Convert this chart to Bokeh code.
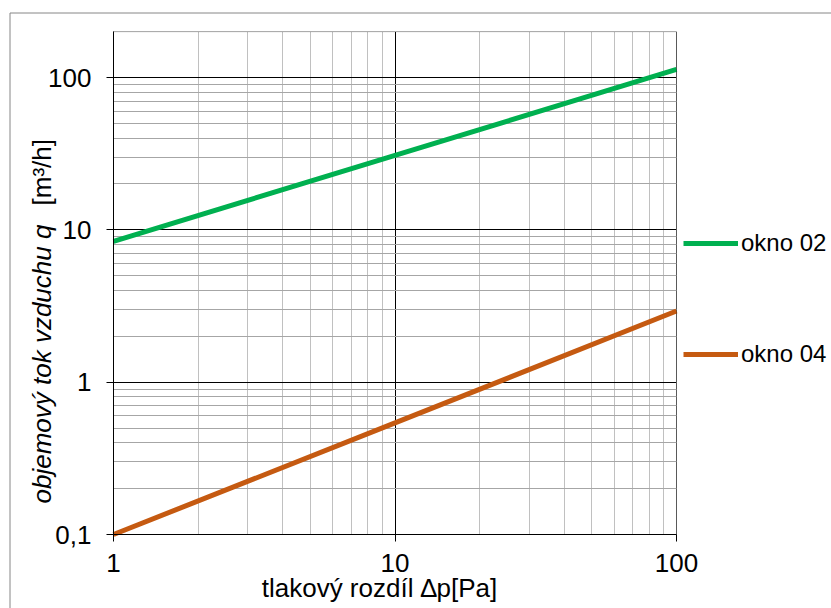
import math
from bokeh.plotting import figure
from bokeh.models import (Range1d, FixedTicker, CustomJSTickFormatter, Label,
                          Legend, LegendItem, BoxAnnotation)
from bokeh.embed import file_html
from bokeh.resources import INLINE

# ---- data ----
pressure = [1, 10, 100]                 # tlakový rozdíl [Pa]
okno_02 = [8.4, 30.8, 113]              # m3/h
okno_04 = [0.1, 0.54, 2.93]             # m3/h
series_names = ["okno 02", "okno 04"]

x_lim = (1, 100)
y_lim = (0.1, 200)
x_major = [1, 10, 100]
x_minor = [2, 3, 4, 5, 6, 7, 8, 9, 20, 30, 40, 50, 60, 70, 80, 90]
y_major = [0.1, 1, 10, 100]
y_minor = [0.2, 0.3, 0.4, 0.5, 0.6, 0.7, 0.8, 0.9,
           2, 3, 4, 5, 6, 7, 8, 9,
           20, 30, 40, 50, 60, 70, 80, 90, 200]

x_title = "tlakový rozdíl ∆p[Pa]"
y_title = "objemový tok vzduchu q"
y_unit = "[m³/h]"

FONT = "Liberation Sans"
GREEN = "#00B050"
ORANGE = "#C55A11"

# ---- layout (canvas pixels) ----
W, H = 831, 608
PX_LEFT, PX_RIGHT = 113, 676        # x = 1 and x = 100
PY_TOP_DEC, PY_BOTTOM = 77, 534     # y = 100 and y = 0.1
BORDER_X, BORDER_Y = 9.5, 12.5      # outer chart border (left, top)

dec_x = (PX_RIGHT - PX_LEFT) / 2.0
dec_y = (PY_BOTTOM - PY_TOP_DEC) / 3.0
x_start = 10 ** (math.log10(x_lim[0]) - PX_LEFT / dec_x)
x_end = 10 ** (math.log10(x_lim[1]) + (W - PX_RIGHT) / dec_x)
y_end = 10 ** (2 + PY_TOP_DEC / dec_y)
y_start = 10 ** (math.log10(y_lim[0]) - (H - PY_BOTTOM) / dec_y)
x_border = 10 ** (math.log10(x_start) + BORDER_X / dec_x)
y_border = 10 ** (math.log10(y_end) - BORDER_Y / dec_y)

p = figure(width=W, height=H, x_axis_type="log", y_axis_type="log",
           x_range=Range1d(x_start, x_end), y_range=Range1d(y_start, y_end),
           output_backend="svg", toolbar_location=None)
p.min_border = 0
p.min_border_left = 0
p.min_border_right = 0
p.min_border_top = 0
p.min_border_bottom = 0
p.background_fill_color = "white"
p.border_fill_color = "white"
p.outline_line_color = None

p.xaxis.ticker = FixedTicker(ticks=x_major, minor_ticks=x_minor)
p.yaxis.ticker = FixedTicker(ticks=y_major, minor_ticks=y_minor)
p.xaxis.fixed_location = y_lim[0]
p.yaxis.fixed_location = x_lim[0]
p.xaxis.bounds = x_lim
p.yaxis.bounds = y_lim
fmt = CustomJSTickFormatter(code="return String(tick).replace('.', ',');")
for ax in (p.xaxis[0], p.yaxis[0]):
    ax.formatter = fmt
    ax.axis_line_color = "black"
    ax.major_tick_line_color = "black"
    ax.major_tick_in = 0
    ax.major_tick_out = 7
    ax.minor_tick_line_color = None
    ax.major_label_text_font = FONT
    ax.major_label_text_font_size = "26px"
    ax.major_label_text_color = "black"
p.xaxis.major_label_standoff = 12
p.yaxis.major_label_standoff = 15

p.xgrid.grid_line_color = "black"
p.ygrid.grid_line_color = "black"
p.xgrid.minor_grid_line_color = "#c0c0c0"
p.ygrid.minor_grid_line_color = "#a6a6a6"
for g, cb in ((p.xgrid[0], y_lim), (p.ygrid[0], x_lim)):
    if "cross_bounds" in g.properties():
        g.cross_bounds = cb

# white masks so that the grid only shows inside the plot area
mask_kw = dict(fill_color="white", fill_alpha=1, line_color=None, level="underlay")
xa, xb = x_start / 10, x_end * 10
ya, yb = y_start / 10, y_end * 10
p.add_layout(BoxAnnotation(left=xa, right=x_lim[0], bottom=ya, top=yb, **mask_kw))
p.add_layout(BoxAnnotation(left=x_lim[1], right=xb, bottom=ya, top=yb, **mask_kw))
p.add_layout(BoxAnnotation(left=xa, right=xb, bottom=ya, top=y_lim[0], **mask_kw))
p.add_layout(BoxAnnotation(left=xa, right=xb, bottom=y_lim[1], top=yb, **mask_kw))

# plot area frame
p.add_layout(BoxAnnotation(left=x_lim[0], right=x_lim[1], bottom=y_lim[0], top=y_lim[1],
                           fill_alpha=0, line_color="black", line_width=1, level="overlay"))

r1 = p.line(pressure, okno_02, line_color=GREEN, line_width=5, line_cap="butt")
r2 = p.line(pressure, okno_04, line_color=ORANGE, line_width=5, line_cap="butt")

# outer chart border (left and top edges; right/bottom lie outside the window)
p.line([x_border, x_border, xb], [ya, y_border, y_border],
       line_color="#868686", line_width=1, level="overlay")

legend = Legend(items=[LegendItem(label=series_names[0], renderers=[r1]),
                       LegendItem(label=series_names[1], renderers=[r2])],
                location=(683, H - 369))
legend.border_line_color = None
legend.background_fill_alpha = 0
legend.padding = 0
legend.margin = 0
legend.spacing = 81
legend.glyph_width = 55
legend.glyph_height = 30
legend.label_height = 30
legend.label_standoff = 3
legend.label_text_font = FONT
legend.label_text_font_size = "24px"
legend.label_text_color = "black"
p.add_layout(legend)

# axis titles
p.add_layout(Label(x=379, y=H - 587, x_units="screen", y_units="screen",
                   text=x_title, text_align="center",
                   text_baseline="alphabetic", text_font=FONT,
                   text_font_size="26px", text_color="black"))
p.add_layout(Label(x=41, y=H - 503, x_units="screen", y_units="screen",
                   text=y_title, angle=math.pi / 2,
                   text_align="left", text_baseline="alphabetic", text_font=FONT,
                   text_font_style="italic", text_font_size="26px",
                   text_color="black"))
p.add_layout(Label(x=41, y=H - 205, x_units="screen", y_units="screen",
                   text=y_unit, angle=math.pi / 2,
                   text_align="left", text_baseline="alphabetic", text_font=FONT,
                   text_font_size="26px", text_color="black"))

open("out.html", "w").write(file_html(p, INLINE))
